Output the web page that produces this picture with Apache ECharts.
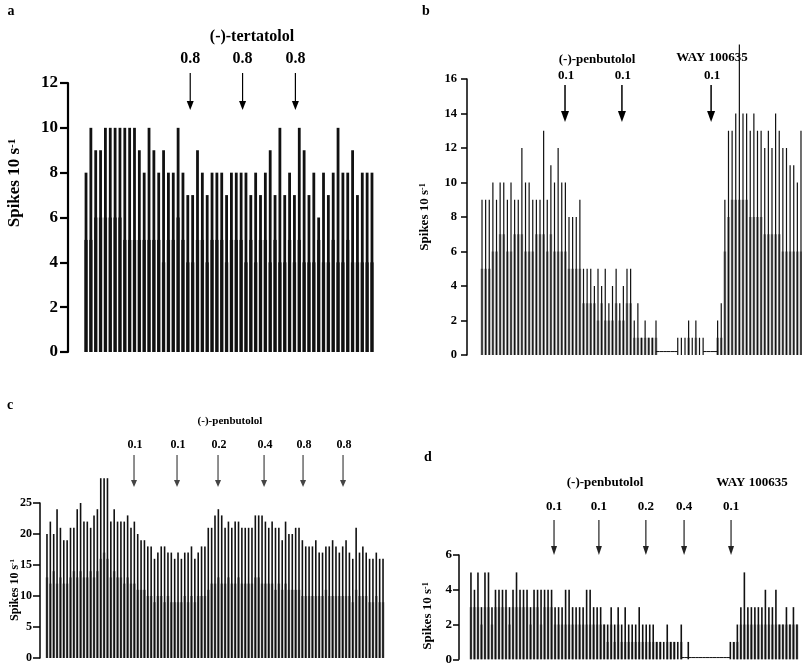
<!DOCTYPE html>
<html><head><meta charset="utf-8">
<script src="https://cdn.jsdelivr.net/npm/echarts/dist/echarts.min.js"></script>
<style>html,body{margin:0;padding:0;background:#fff}#c{width:802px;height:666px}</style>
</head><body><div id="c"></div>
<script>
// ---- data (spikes per 10 s, one value per bin): peak of each bin and the dense "core" level ----
const aPeaks = [8,10,9,9,10,10,10,10,10,10, 10,9,8,10,9,8,9,8,8,10, 8,7,7,9,8,7,8,8,8,7, 8,
  8,8,8,7,8,7,8,9,7,10, 7,8,7,10,9,7,8,6,8,7, 8,10,8,8,9,7,8,8,8];
const aCore = [5,5,6,6,6,6,6,6,5,5, 5,5,5,5,5,5,4,5,5,6, 5,4,4,5,5,4,5,5,5,4, 5,
  5,5,4,5,4,5,5,4,5, 4,4,5,4,5,4,4,4,5,4, 4,5,4,4,5,4,4,4,4,4];
const bPeaks = [9,9,9,10,9,10,10,9,10,9, 9,12,10,10,9,9,9,13,9,11, 10,12,10,10,8,8,8,9,5,5, 5,4,5,4,5,3,4,5,3,4, 5,5,
  2,3,1,2,1,1,2,0,0,0, 0,0,1,1,1,2,1,2,1,1, 0,0,0,2,3,
  9,13,13,14,18,14,14,13,14,13, 13,12,13,12,14,13,12,12,11,11, 10,13];
const bCore = [5,5,5,6,6,7,7,6,6,7, 7,7,6,6,6,7,7,7,6,7, 6,6,6,6,5,5,5,5,3,3, 3,3,2,3,2,2,2,3,2,2, 3,3,
  1,1,1,1,1,1,1,0,0,0, 0,0,0,0,0,1,0,1,0,0, 0,0,0,1,1,
  6,8,9,9,9,9,9,8,8,8, 8,7,7,7,7,7,6,6,6,6, 6,6];
const cPeaks = [20,22,20,24,21,19,19,21,21,24, 25,22,22,21,23,24,29,29,29,22, 24,22,22,22,23,21,22,20,19,19,
  18,18,16,17,18,18,17,17,16,17, 16,17,17,18,16,17,18,18,21,21, 23,
  24,23,21,22,21,22,22,21,21, 21,21,23,23,23,22,21,22,21,21, 19,22,20,20,21,21,19,18,18,18,
  19,17,17,18,18,19,18,17,18,19, 17,16,21,17,18,17,16,16,17,16, 16];
const cCore = [13,12,14,12,13,12,12,13,14,13, 14,13,13,14,13,14,16,17,16,13, 14,13,13,12,13,12,12,11,11,11,
  10,10,9,10,10,9,10,9,9,9, 9,10,9,10,9,10,10,10,11,12, 12,
  13,12,12,13,12,12,13,12,12, 12,12,13,13,12,12,12,12,11,12, 11,12,11,11,11,11,10,10,10,10,
  10,10,10,11,10,10,10,10,10,10, 10,9,11,10,10,10,9,9,10,9, 9];
const dPeaks = [5,4,5,3,5,5,3,4,4,4, 4,3,4,5,4,4,4,3,4,4, 4,4,4,4,3,3,3,4,4,3, 3,3,3,4,4,3,3,3,2,2,
  3,2,3,2,3,2,2,2,3,2, 2,2,2,1,1,1,2,1,1,1, 2,0,1,
  0,0,0,0,0,0,0,0,0,0,0,
  1,1,2,3,5,3,3,3,3,3, 4,3,3,4,2,2,3,2,3,2];
const dCore = [3,3,3,2,3,3,2,3,3,3, 3,2,3,3,3,3,3,2,3,3, 2,3,3,3,2,2,2,2,2,2, 2,2,2,2,2,2,2,2,2,1,
  2,1,2,1,1,1,1,1,1,1, 1,1,1,1,1,0,1,1,1,0, 1,0,0,
  0,0,0,0,0,0,0,0,0,0,0,
  0,1,1,2,2,2,2,2,2,2, 2,2,2,2,2,2,2,2,2,2];

// tick labels
const aTicks = [0,2,4,6,8,10,12];
const bTicks = [0,2,4,6,8,10,12,14,16];
const cTicks = [0,5,10,15,20,25];
const dTicks = [0,2,4,6];

// drug additions: bin position (fractional index) and dose
const aArrowAt = [21.5, 32.3, 43.2];  const aDoses = ['0.8','0.8','0.8'];
const bArrowAt = [22.9, 38.6, 63.2];  const bDoses = ['0.1','0.1','0.1'];
const cArrowAt = [25.9, 38.7, 50.9, 64.6, 76.2, 88.1]; const cDoses = ['0.1','0.1','0.2','0.4','0.8','0.8'];
const dArrowAt = [23.7, 36.5, 49.9, 60.8, 74.2]; const dDoses = ['0.1','0.1','0.2','0.4','0.1'];

const yTitle = 'Spikes 10 s';
const drugA = '(-)-tertatolol';
const drugP = '(-)-penbutolol';
const drugW = 'WAY 100635';

// ---- layout / style ----
const FONT = '"Liberation Serif","DejaVu Serif",serif';
const panels = [
  {peaks:aPeaks, core:aCore, ticks:aTicks, left:83.6, top:83, width:290.8, height:269, offset:15.6, barW:2.8, coreW:3.4, coreC:'#3c3c3c', fs:17, tick:8, aw:2.2, margin:10, base:0},
  {peaks:bPeaks, core:bCore, ticks:bTicks, left:480.2, top:79, width:322.6, height:276, offset:13.2, barW:1.2, coreW:2.6, coreC:'#8e8e8e', fs:12.5, tick:6, aw:1.5, margin:10, base:0.2},
  {peaks:cPeaks, core:cCore, ticks:cTicks, left:45.3, top:503, width:339.4, height:155, offset:5.3, barW:1.6, coreW:2.6, coreC:'#8a8a8a', fs:12, tick:7, aw:1.5, margin:8, base:0},
  {peaks:dPeaks, core:dCore, ticks:dTicks, left:469.2, top:555, width:329.5, height:104.3, offset:10.2, barW:1.6, coreW:2.6, coreC:'#8e8e8e', fs:13, tick:6, aw:1.5, margin:7, base:0.1}
];

const grid = [], xAxis = [], yAxis = [], series = [];
panels.forEach((p, k) => {
  grid.push({left:p.left, top:p.top, width:p.width, height:p.height, outerBoundsMode:'none', containLabel:false});
  xAxis.push({type:'category', gridIndex:k, data:p.peaks.map((_, i) => i), show:false, boundaryGap:true});
  const t = p.ticks;
  yAxis.push({type:'value', gridIndex:k, min:t[0], max:t[t.length-1], interval:t[1]-t[0], offset:p.offset,
    axisLine:{show:true, lineStyle:{color:'#000', width:p.aw}},
    axisTick:{show:true, length:p.tick, lineStyle:{color:'#000', width:p.aw}},
    axisLabel:{color:'#000', fontFamily:FONT, fontWeight:'bold', fontSize:p.fs, margin:p.margin},
    splitLine:{show:false}});
  series.push({type:'bar', xAxisIndex:k, yAxisIndex:k, data:p.peaks, barWidth:p.barW, clip:false,
    itemStyle:{color:'#111'}, silent:true, z:3});
});
// second (hidden) category axis per panel for the dense core level, drawn behind the peaks
panels.forEach((p, k) => {
  const xi = xAxis.length;
  xAxis.push({type:'category', gridIndex:k, data:p.core.map((_, i) => i), show:false, boundaryGap:true});
  series.push({type:'bar', xAxisIndex:xi, yAxisIndex:k, data:p.core, barWidth:p.coreW, clip:false,
    itemStyle:{color:p.coreC}, silent:true, z:2});
  if (p.base > 0) {
    const pk = p.peaks;
    series.push({type:'line', xAxisIndex:xi, yAxisIndex:k, symbol:'none', clip:false, z:2,
      data: pk.map((v, i) => (v === 0 || pk[i-1] === 0 || pk[i+1] === 0) ? p.base : null),
      lineStyle:{color:'#111', width:1}, connectNulls:false});
  }
});

const chart = echarts.init(document.getElementById('c'), null, {renderer:'canvas'});
chart.setOption({animation:false, backgroundColor:'#fff', grid, xAxis, yAxis, series});

function px(k, pos) {
  const i0 = Math.floor(pos), f = pos - i0;
  const x0 = chart.convertToPixel({xAxisIndex:k}, i0);
  const x1 = chart.convertToPixel({xAxisIndex:k}, i0 + 1);
  return x0 + (x1 - x0) * f;
}
const G = [];
function txt(s, x, y, size, color) {
  G.push({type:'text', x, y, silent:true, style:{text:s, fill:color || '#000', font:'bold ' + size + 'px ' + FONT, align:'center', verticalAlign:'middle'}});
}
function ytitle(x, y, size) {
  G.push({type:'text', x, y, rotation:Math.PI/2, silent:true, style:{
    text:'{m|' + yTitle + '}{s|-1}', align:'center', verticalAlign:'middle', fill:'#000',
    rich:{m:{font:'bold ' + size + 'px ' + FONT, fill:'#000'}, s:{font:'bold ' + Math.round(size*0.62) + 'px ' + FONT, fill:'#000', verticalAlign:'top', padding:[0,0,Math.round(size*0.35),0]}}}});
}
function arrow(x, y1, y2, color, lw, hw, hh) {
  G.push({type:'line', silent:true, shape:{x1:x, y1:y1, x2:x, y2:y2 - hh + 1}, style:{stroke:color, lineWidth:lw}});
  G.push({type:'polygon', silent:true, shape:{points:[[x - hw/2, y2 - hh], [x + hw/2, y2 - hh], [x, y2]]}, style:{fill:color}});
}

// panel a
txt('a', 11, 11, 14);
ytitle(15, 183, 17);
txt(drugA, 252, 37, 16);
aArrowAt.forEach((p, j) => { const x = px(0, p); txt(aDoses[j], x, 59, 16); arrow(x, 73, 110, '#000', 1.2, 7, 9); });
// panel b
txt('b', 426, 11, 14);
ytitle(425, 217, 13);
txt(drugP, 597, 60, 13);
txt(drugW, 712, 58, 13);
bArrowAt.forEach((p, j) => { const x = px(1, p); txt(bDoses[j], x + 1, 76, 13); arrow(x, 85, 122, '#000', 1.5, 8, 11); });
// panel c
txt('c', 10, 405, 14);
ytitle(15, 590, 12);
txt(drugP, 230, 421, 11);
cArrowAt.forEach((p, j) => { const x = px(2, p); txt(cDoses[j], x + 1, 445, 12); arrow(x, 455, 487, '#444', 1.2, 6, 7); });
// panel d
txt('d', 428, 457, 14);
ytitle(428, 616, 13);
txt(drugP, 605, 483, 13);
txt(drugW, 752, 483, 13);
dArrowAt.forEach((p, j) => { const x = px(3, p); txt(dDoses[j], x, 507, 13); arrow(x, 520, 555, '#222', 1.2, 6, 9); });

chart.setOption({graphic: G});
</script>
</body></html>
